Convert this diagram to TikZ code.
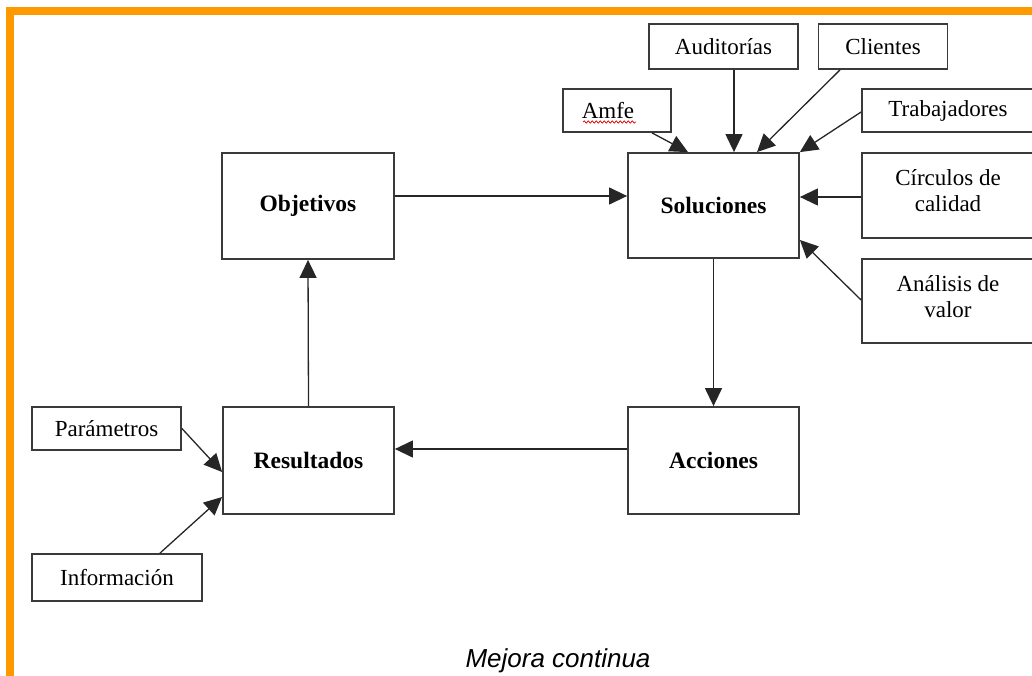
\documentclass[tikz,border=0pt]{standalone}
\usepackage{fontspec}
\setmainfont{Liberation Serif}
\newfontfamily\captionfont{Liberation Sans}
\usetikzlibrary{arrows.meta,decorations.pathmorphing}
\definecolor{frameorange}{HTML}{FF9900}
\definecolor{boxline}{HTML}{3A3A3A}
\tikzset{
  box/.style={draw=boxline, line width=1.8pt, fill=white, inner sep=0pt,
    align=center, font=\fontsize{23}{26}\selectfont},
  bigbox/.style={box, font=\fontsize{23.5}{26}\selectfont\bfseries},
  arr/.style={draw=black!85, line width=1.3pt,
    -{Triangle[length=18pt,width=17pt]}},
}
\begin{document}
\begin{tikzpicture}[x=1pt,y=-1pt]
  \useasboundingbox (0,0) rectangle (1032,676);
  \clip (0,0) rectangle (1032,676);
  % orange frame
  \fill[frameorange] (6,7) rectangle (1032,15.5);
  \fill[frameorange] (6,7) rectangle (14,676);

  % main cycle
  \node[bigbox, minimum width=172pt, minimum height=106pt] (obj) at (308,206) {Objetivos};
  \node[bigbox, minimum width=171pt, minimum height=105pt] (sol) at (713.5,205.5) {Soluciones};
  \node[bigbox, minimum width=171pt, minimum height=107pt] (acc) at (713.5,460.5) {Acciones};
  \node[bigbox, minimum width=171pt, minimum height=107pt] (res) at (308.5,460.5) {Resultados};

  % inputs to Soluciones
  \node[box, minimum width=149pt, minimum height=45pt] (aud) at (723.5,46.5) {Auditorías};
  \node[box, minimum width=129pt, minimum height=45pt] (cli) at (883,46.5) {Clientes};
  \node[box, minimum width=108pt, minimum height=43pt] (amfe) at (617,110.5) {Amfe\hspace{18pt}};
  \node[box, minimum width=172pt, minimum height=43pt] (trab) at (948,110.5) {Trabajadores};
  \node[box, minimum width=172pt, minimum height=85pt] (circ) at (948,195.5) {Círculos de\\calidad\\[-16pt]};
  \node[box, minimum width=172pt, minimum height=84pt] (anal) at (948,301) {Análisis de\\valor\\[-18pt]};

  % inputs to Resultados
  \node[box, minimum width=149pt, minimum height=43pt] (par) at (106.5,428.5) {Parámetros};
  \node[box, minimum width=170pt, minimum height=47pt] (inf) at (117,577.5) {Información};

  % spell-check underline under Amfe
  \draw[red!85!black, line width=0.7pt, decorate,
        decoration={snake, amplitude=1.1pt, segment length=4pt}]
    ([xshift=-34pt,yshift=-11.5pt]amfe.center) -- ([xshift=19pt,yshift=-11.5pt]amfe.center);

  % cycle connectors
  \draw[arr] ([yshift=10pt]obj.east) -- ([yshift=10pt]obj.east -| sol.west);
  \draw[arr] (sol.south) -- (acc.north);
  \draw[arr] ([yshift=11.5pt]acc.west) -- ([yshift=11.5pt]acc.west -| res.east);
  \draw[arr] (res.north) -- (obj.south);

  % connectors into Soluciones
  \draw[arr] ([xshift=10.5pt]aud.south) -- ([xshift=10.5pt]aud.south |- sol.north);
  \draw[arr] ([xshift=-43pt]cli.south) -- ([xshift=43.5pt]sol.north);
  \draw[arr] ([xshift=35pt]amfe.south) -- ([xshift=-25.5pt]sol.north);
  \draw[arr] ([yshift=-1.5pt]trab.west) -- (sol.north east);
  \draw[arr] ([yshift=-1.5pt]circ.west) -- ([yshift=-1.5pt]circ.west -| sol.east);
  \draw[arr] ([yshift=1pt]anal.west) -- ([yshift=-34.5pt]sol.east);

  % connectors into Resultados
  \draw[arr] (par.east) -- ([yshift=-11.5pt]res.west);
  \draw[arr] ([xshift=43pt]inf.north) -- ([yshift=-36.5pt]res.west);

  % caption
  \node[anchor=base, inner sep=0pt, font=\captionfont\itshape\fontsize{26}{30}\selectfont] (cap) at (558,667) {Mejora continua};
\end{tikzpicture}
\end{document}
